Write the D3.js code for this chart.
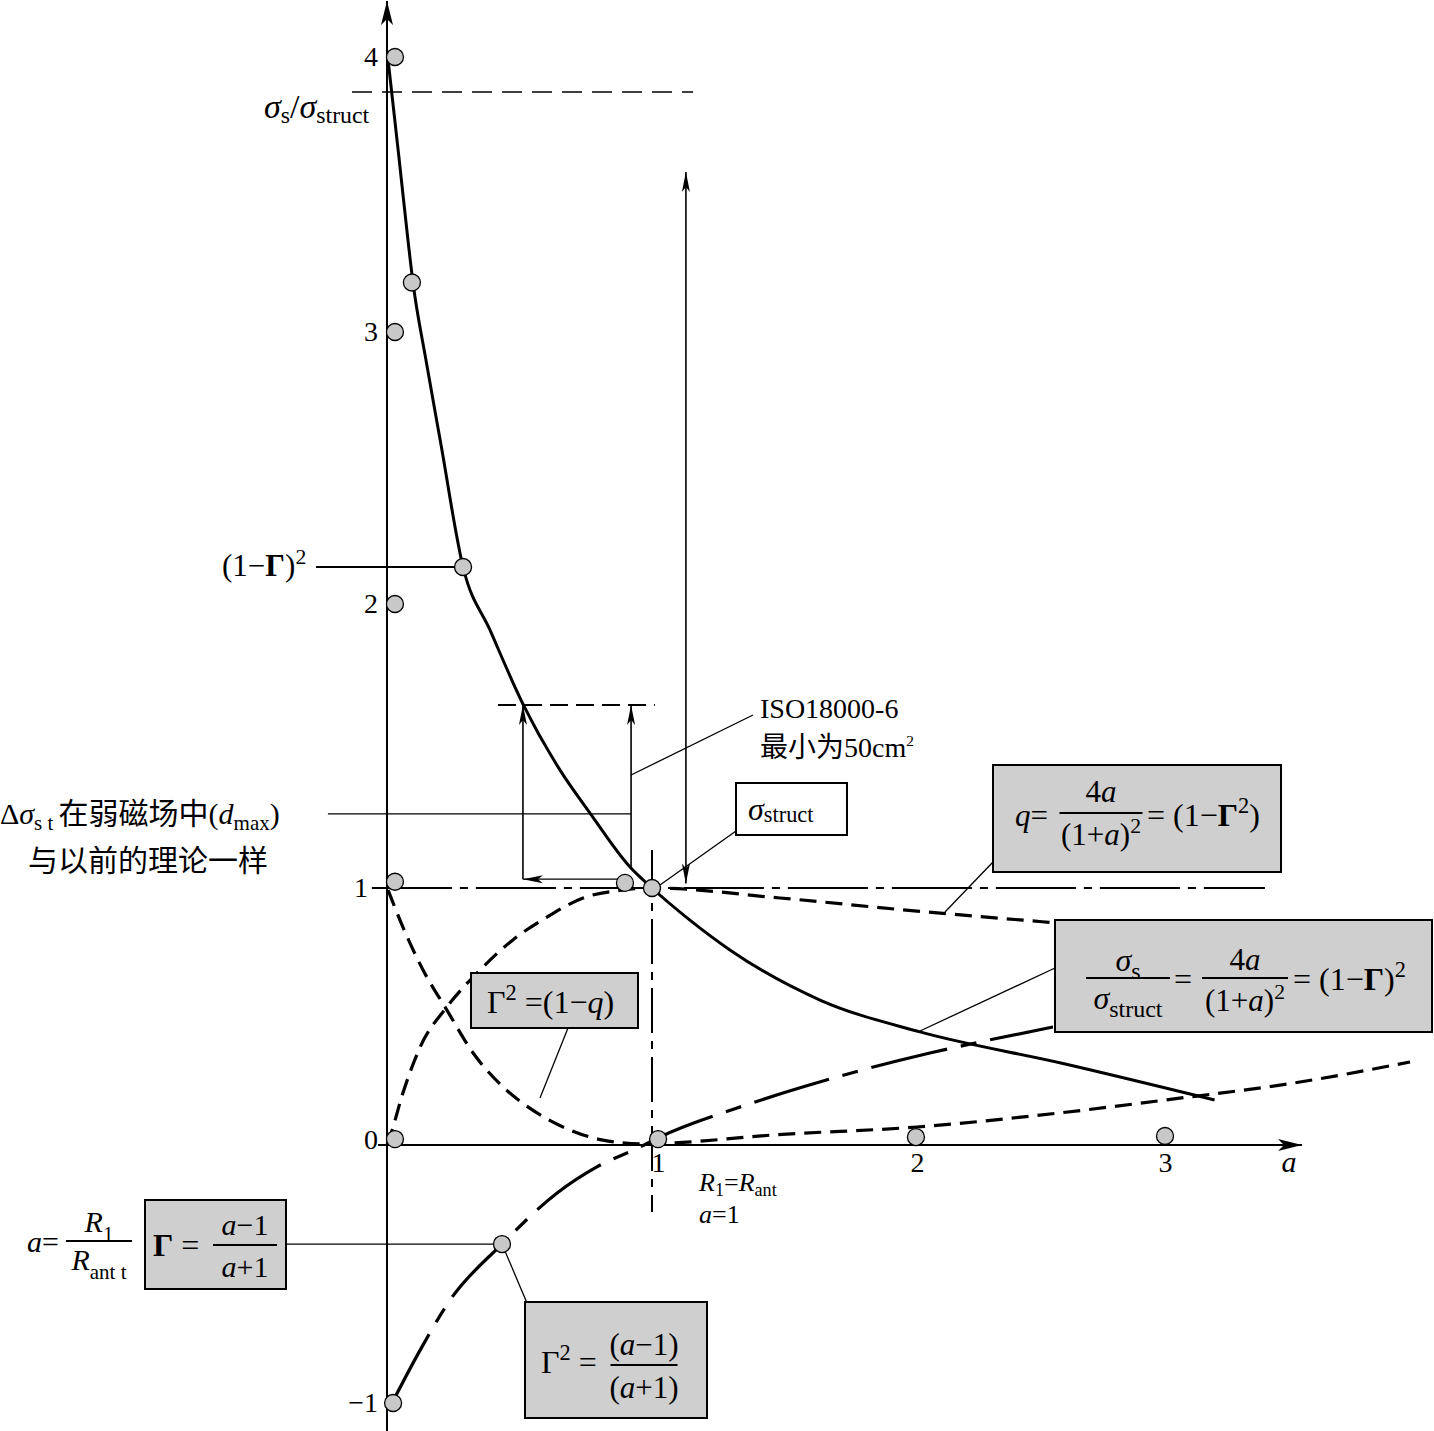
<!DOCTYPE html>
<html><head><meta charset="utf-8">
<script src="https://cdn.jsdelivr.net/npm/d3@7"></script>
<style>body{margin:0;background:#fff}</style>
</head><body>
<svg id="c" width="1434" height="1431"></svg>
<script>
// ---------------- data (a, value) ----------------
const xTicks = [1, 2, 3];
const yTicks = [-1, 0, 1, 2, 3, 4];
// sigma_s / sigma_struct (solid)
const sigmaRatio = [[0.004,3.99],[0.045,3.636],[0.079,3.335],[0.098,3.18],[0.147,2.897],[0.203,2.59],[0.287,2.136],[0.389,1.908],[0.513,1.648],[0.653,1.415],[0.766,1.264],[0.917,1.074],[1,1],[1.143,0.875],[1.294,0.759],[1.634,0.564],[2.012,0.44],[2.58,0.319],[3.2,0.175]];
// q = 4a/(1+a)^2 (dashed)
const qCurve = [[0,0],[0.011,0.031],[0.06,0.202],[0.125,0.381],[0.226,0.537],[0.351,0.681],[0.475,0.798],[0.604,0.887],[0.74,0.961],[0.89,0.992],[1,1],[1.483,0.961],[2,0.91],[2.565,0.864]];
// Gamma^2 (dashed)
const gamma2Curve = [[0.004,0.992],[0.06,0.848],[0.136,0.681],[0.226,0.525],[0.325,0.358],[0.438,0.226],[0.566,0.125],[0.691,0.058],[0.815,0.019],[0.97,0.004],[1.08,0.008],[1.457,0.039],[2,0.07],[2.577,0.125],[3,0.175],[3.544,0.245],[3.988,0.323]];
// Gamma (long dash - short dash)
const gammaCurve = [[0.019,-1],[0.125,-0.795],[0.238,-0.601],[0.434,-0.384],[0.642,-0.186],[0.792,-0.085],[0.955,-0.008],[1.03,0.031],[1.321,0.144],[1.494,0.202],[2.052,0.358],[2.254,0.401],[2.548,0.459]];
// grey dots
const markerPts = [[0.03,4],[0.094,3.18],[0.03,3],[0.287,2.136],[0.03,2],[0.03,1.022],[0.898,1.018],[1,1],[0.03,0.023],[1.023,0.023],[1.996,0.031],[3,0.035],[0.434,-0.384],[0.023,-1]];

// ---------------- setup ----------------
const SERIF = '"Liberation Serif","Times New Roman",serif';
const CJK = '"Noto Sans CJK SC","Noto Sans CJK JP",sans-serif';
const svg = d3.select('#c');
svg.append('rect').attr('width',1434).attr('height',1431).attr('fill','#fff');
const x = d3.scaleLinear().domain([0,1,2,3,4]).range([387,652,917,1165,1413]);
const y = d3.scaleLinear().domain([-1,0,1,2,3,4]).range([1403,1145,888,604,332,57]);
const g = svg.append('g');

const defs = svg.append('defs');
function mk(id, L, W, notch){
  defs.append('marker').attr('id',id).attr('markerUnits','userSpaceOnUse')
    .attr('viewBox',`${-L-1} ${-W-1} ${L+2} ${2*W+2}`).attr('refX',0).attr('refY',0)
    .attr('markerWidth',L+2).attr('markerHeight',2*W+2).attr('orient','auto-start-reverse')
    .append('path').attr('d',`M0,0L${-L},${-W}L${-L+notch},0L${-L},${W}Z`).attr('fill','#000');
}
mk('axArrow', 24, 6, 6);
mk('smArrow', 20, 4, 5);

function rich(parent, px, py, parts, o={}){
  const size=o.size||28, sub=o.sub!=null?o.sub:0.3, sup=o.sup!=null?o.sup:0.4, small=o.small||0.7;
  const t=parent.append('text').attr('x',px).attr('y',py).attr('font-family',SERIF)
    .attr('font-size',size).attr('text-anchor',o.anchor||'start').attr('fill','#000')
    .style('white-space','pre');
  let shift=0;
  for(const p of parts){
    const [txt,k]=Array.isArray(p)?p:[p,''];
    const ts=t.append('tspan').text(txt);
    let target=0, fs=size;
    if(k.includes('s')){target=size*sub;fs=size*small;}
    if(k.includes('p')){target=-size*sup;fs=size*small;}
    if(target!==shift) ts.attr('dy',target-shift);
    shift=target;
    if(fs!==size) ts.attr('font-size',fs);
    if(k.includes('i')) ts.attr('font-style','italic');
    if(k.includes('b')) ts.attr('font-weight','bold');
    if(k.includes('c')) ts.attr('font-family',CJK);
  }
  return t;
}
function frac(cx, yl, w, num, den, o){
  rich(g, cx, yl-o.nd, num, Object.assign({}, o, {anchor:'middle'}));
  g.append('line').attr('x1',cx-w/2).attr('x2',cx+w/2).attr('y1',yl).attr('y2',yl)
    .attr('stroke','#000').attr('stroke-width',2);
  rich(g, cx, yl+o.dd, den, Object.assign({}, o, {anchor:'middle'}));
}
function seg(x1,y1,x2,y2,sw,dash){
  const l=g.append('line').attr('x1',x1).attr('y1',y1).attr('x2',x2).attr('y2',y2)
    .attr('stroke','#000').attr('stroke-width',sw||1.3);
  if(dash) l.attr('stroke-dasharray',dash);
  return l;
}
function box(x0,y0,w,h,fill){
  g.append('rect').attr('x',x0).attr('y',y0).attr('width',w).attr('height',h)
    .attr('fill',fill).attr('stroke','#000').attr('stroke-width',2);
}

// ---------------- reference lines ----------------
seg(x(-0.132), y(3.873), x(1.155), y(3.873), 1.4, '20,10');           // top dashed
seg(x(0.419), y(1.644), x(1.011), y(1.644), 2, '18,8');              // ISO level dashed
seg(x(-0.057), y(1), x(3.403), y(1), 2, '80,8,8,8');                 // dash-dot at 1
seg(x(1), y(1.134), x(1), y(-0.26), 2, '45,8,8,8');                  // vertical at a=1
seg(x(-0.223), y(1.261), x(0.921), y(1.261), 1.3);                   // delta leader
seg(x(-0.268), y(2.136), x(0.287), y(2.136), 2);                     // (1-Γ)^2 leader
seg(x(-0.381), y(-0.384), x(0.434), y(-0.384), 1.3);                 // Γ leader

// arrows
seg(x(1.128), y(1.016), x(1.128), y(3.582), 1.6).attr('marker-start','url(#smArrow)').attr('marker-end','url(#smArrow)');
seg(x(0.921), y(1.07), x(0.921), y(1.644), 1.6).attr('marker-end','url(#smArrow)');
seg(x(0.921), y(1.031), x(0.513), y(1.031), 1.3).attr('marker-end','url(#smArrow)');
seg(x(0.513), y(1.031), x(0.513), y(1.644), 1.6).attr('marker-end','url(#smArrow)');

// axes
seg(x(0), 1431, x(0), 1, 2).attr('marker-end','url(#axArrow)');
seg(378, y(0), 1302, y(0), 2).attr('marker-end','url(#axArrow)');
const gy = svg.append('g').attr('transform',`translate(${x(0)},0)`)
  .call(d3.axisLeft(y).tickValues(yTicks).tickSize(0).tickPadding(9).tickFormat(d3.format('d')));
gy.select('.domain').remove();
gy.selectAll('text').attr('font-family',SERIF).attr('font-size',28).attr('fill','#000');
gy.selectAll('text').filter(d=>d===0).attr('dy','0.12em');
gy.selectAll('text').filter(d=>d===1).attr('dx',-10);
const gx = svg.append('g').attr('transform',`translate(0,${y(0)})`)
  .call(d3.axisBottom(x).tickValues(xTicks).tickSize(0).tickPadding(7).tickFormat(d3.format('d')));
gx.select('.domain').remove();
gx.selectAll('text').attr('font-family',SERIF).attr('font-size',28).attr('fill','#000');
gx.selectAll('text').filter(d=>d===1).attr('dx',6);
seg(x(0)-12, y(1), x(0), y(1), 2);
rich(svg, x(3.5), 1172, [['a','i']], {size:30, anchor:'middle'});

// ---------------- curves ----------------
const line = d3.line().x(d=>x(d[0])).y(d=>y(d[1])).curve(d3.curveMonotoneX);
g.append('path').attr('d',line(sigmaRatio)).attr('fill','none').attr('stroke','#000').attr('stroke-width',3);
g.append('path').attr('d',line(qCurve)).attr('fill','none').attr('stroke','#000').attr('stroke-width',3.2).attr('stroke-dasharray','17,9');
g.append('path').attr('d',line(gamma2Curve)).attr('fill','none').attr('stroke','#000').attr('stroke-width',3.2).attr('stroke-dasharray','17,9');
g.append('path').attr('d',line(gammaCurve)).attr('fill','none').attr('stroke','#000').attr('stroke-width',3.2).attr('stroke-dasharray','78,14,16,14');

// leader lines
seg(753, 715, x(0.921), 775, 1.3);
seg(736, 831, 660, 885, 1.3);
seg(993, 862, 945, 912, 1.3);
seg(1055, 968, 920, 1031, 1.3);
seg(568, 1028, 540, 1098, 1.3);
seg(502, 1244, 527, 1303, 1.3);

// dots
g.selectAll('circle.m').data(markerPts).enter().append('circle')
  .attr('cx',d=>x(d[0])).attr('cy',d=>y(d[1])).attr('r',8.5)
  .attr('fill','#c8c8c8').attr('stroke','#000').attr('stroke-width',1.3);

// ---------------- boxes & formulas ----------------
const GREY = '#cfcfcf';
// q box
box(993, 765, 288, 107, GREY);
rich(g, 1015, 826, [['q','i'],'='], {size:31});
frac(1101, 813, 83, ['4',['a','i']], ['(1+',['a','i'],')',['2','p']], {size:31, nd:11, dd:32});
rich(g, 1147, 826, ['= (1−',['Γ','b'],['2','p'],')'], {size:32});
// sigma box
box(1055, 920, 377, 112, GREY);
frac(1128, 978, 84, [['σ','i'],['s','s']], [['σ','i'],['struct','s']], {size:32, nd:7, dd:31, sub:0.25, small:0.75});
rich(g, 1174, 990, ['='], {size:32});
frac(1245, 978, 86, ['4',['a','i']], ['(1+',['a','i'],')',['2','p']], {size:31, nd:8, dd:33});
rich(g, 1293, 990, ['= (1−',['Γ','b'],')',['2','p']], {size:32});
// Γ^2=(1-q)
box(471, 973, 167, 55, GREY);
rich(g, 487, 1013, ['Γ',['2','p'],' =(1−',['q','i'],')'], {size:32});
// Γ box
box(145, 1200, 141, 89, GREY);
rich(g, 153, 1256, [['Γ','b'],' ='], {size:32});
frac(245, 1245, 64, [['a','i'],'−1'], [['a','i'],'+1'], {size:30, nd:10, dd:32});
// a = R1/Rant
rich(g, 27, 1252, [['a','i'],'='], {size:30});
frac(99, 1241, 66, [['R','i'],['1','s']], [['R','i'],['ant t','s']], {size:30, nd:9, dd:29});
// Γ^2 box
box(525, 1302, 182, 116, GREY);
rich(g, 541, 1373, ['Γ',['2','p'],' ='], {size:32});
frac(644, 1365, 67, ['(',['a','i'],'−1)'], ['(',['a','i'],'+1)'], {size:31, nd:10, dd:33});
// sigma struct box
box(736, 783, 111, 52, '#fff');
rich(g, 748, 820, [['σ','i'],['struct','s']], {size:32, sub:0.06});

// ---------------- labels ----------------
rich(g, 264, 118, [['σ','i'],['s','s'],'/',['σ','i'],['struct','s']], {size:34, sub:0.14});
rich(g, 222, 576, ['(1−',['Γ','b'],')',['2','p']], {size:31});
rich(g, 0, 824, ['Δ',['σ','i'],['s t ','s'],['在弱磁场中','c'],'(',['d','i'],['max','s'],')'], {size:30, sub:0.2});
rich(g, 28, 871, [['与以前的理论一样','c']], {size:30});
rich(g, 760, 718, ['ISO18000-6'], {size:28});
rich(g, 760, 757, [['最小为','c'],'50cm',['2','p']], {size:28, small:0.55});
rich(g, 699, 1191, [['R','i'],['1','s'],'=',['R','i'],['ant','s']], {size:26, sub:0.2});
rich(g, 699, 1223, [['a','i'],'=1'], {size:26});
</script>
</body></html>
